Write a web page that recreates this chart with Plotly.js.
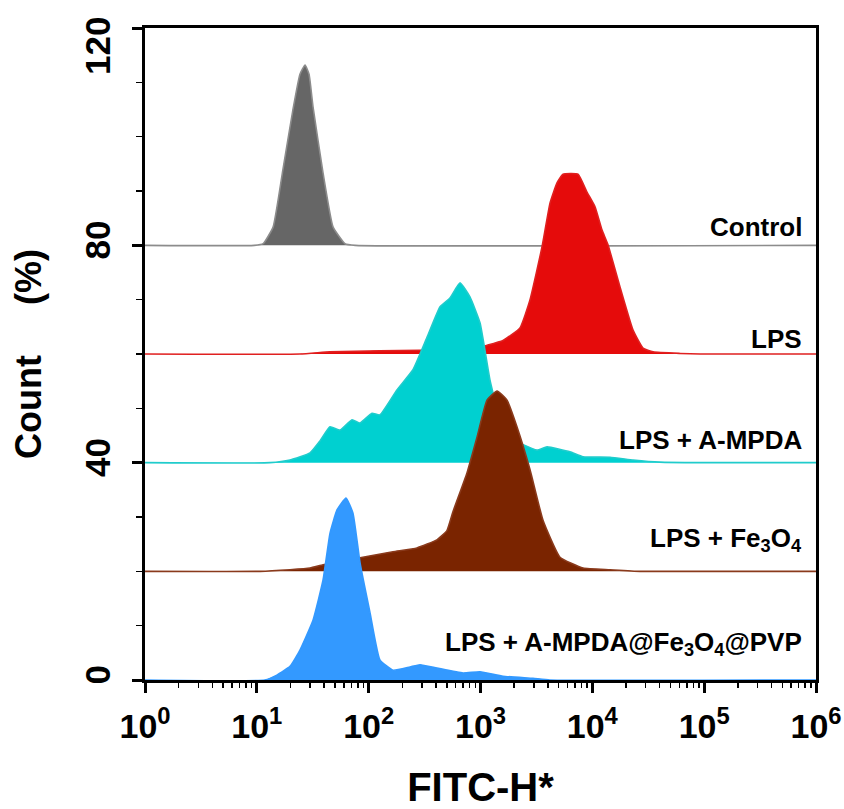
<!DOCTYPE html>
<html>
<head>
<meta charset="utf-8">
<script src="https://cdn.plot.ly/plotly-3.0.1.min.js"></script>
<style>html,body{margin:0;padding:0;background:#fff;}#chart{width:844px;height:809px;}</style>
</head>
<body>
<div id="chart"></div>
<script>
// Sample names (top to bottom) and their vertical offsets (Count %)
var sampleNames = ['Control', 'LPS', 'LPS + A-MPDA', 'LPS + Fe<sub>3</sub>O<sub>4</sub>', 'LPS + A-MPDA@Fe<sub>3</sub>O<sub>4</sub>@PVP'];
var sampleOffsets = [80, 60, 40, 20, 0];

// FITC-H intensity (x) and count (%) above each sample's baseline
var controlX = [1, 9.5, 11.4, 14.0, 17.1, 21.0, 24.3, 27.0, 29.3, 31.8, 39.1, 48.0, 61.4, 75.9, 1e6];
var controlY = [0, 0, 0.3, 3.4, 13.9, 24.9, 31.5, 33.2, 31.5, 25.5, 13.3, 3.4, 0.3, 0, 0];

var lpsX = [1, 24.3, 45.1, 126, 288, 805, 1143, 1589, 2254, 2773, 3548, 4188, 4831, 5470, 7447, 8954, 10568, 12218, 13804, 17701, 23121, 28379, 34914, 60814, 91833, 1e6];
var lpsY = [0, 0, 0.4, 0.6, 0.7, 0.8, 1.6, 2.5, 4.8, 10, 19.7, 27.8, 31.5, 33.1, 33.1, 29.8, 27.1, 22.8, 20.1, 12.3, 4.4, 1.1, 0.4, 0.1, 0, 0];

var ampdaX = [1, 13.1, 19.8, 29.9, 36.7, 45.1, 55.5, 71.0, 83.8, 107, 126, 179, 249, 333, 435, 533, 656, 805, 991, 1216, 1493, 1837, 2254, 3199, 3936, 6310, 8260, 14388, 23121, 40272, 91833, 1e6];
var ampdaY = [0, 0, 0.5, 1.8, 4, 6.6, 6.0, 7.9, 7.3, 9.1, 8.8, 13.4, 17.1, 23.1, 28.7, 30.3, 33.1, 30.5, 25.7, 15.2, 8, 4.5, 3.6, 2.3, 2.9, 2, 1.1, 1.0, 0.5, 0.1, 0, 0];

var fe3o4X = [1, 10.7, 19.8, 29.9, 39.1, 83.8, 165, 270, 408, 501, 568, 757, 931, 1143, 1406, 1726, 2118, 2773, 3622, 5140, 8260, 14388, 26669, 1e6];
var fe3o4Y = [0, 0, 0.3, 0.6, 1.2, 2.5, 3.6, 4.3, 5.8, 7.5, 11, 18.1, 24.7, 31.5, 33.2, 31.5, 26.6, 18.7, 9.4, 2.6, 0.6, 0.3, 0, 0];

var pvpX = [1, 11.8, 15.1, 19.8, 24.3, 31.8, 39.1, 45.1, 52.1, 62.7, 72.4, 83.8, 103, 126, 165, 234, 288, 408, 698, 991, 1589, 2951, 4169, 1e6];
var pvpY = [0, 0, 0.9, 2.5, 5.5, 11, 18.4, 27, 31.3, 33.5, 30.7, 21.5, 12.3, 3.7, 1.8, 2.4, 2.8, 2.2, 1.3, 1.5, 0.7, 0.3, 0, 0];

// Axis ticks
var xTickVals = [1, 10, 100, 1000, 10000, 100000, 1000000];
var xTickText = ['10<sup>0</sup>', '10<sup>1</sup>', '10<sup>2</sup>', '10<sup>3</sup>', '10<sup>4</sup>', '10<sup>5</sup>', '10<sup>6</sup>'];
var yTickVals = [0, 40, 80, 120];
var yTickText = ['0', '40', '80', '120'];

var seriesX = [controlX, lpsX, ampdaX, fe3o4X, pvpX];
var seriesY = [controlY, lpsY, ampdaY, fe3o4Y, pvpY];
var fillColors = ['#666666', '#e50b0b', '#00d0d0', '#7a2400', '#3399ff'];
var lineColors = ['#8c8c8c', '#e02020', '#20cccc', '#8a3a1c', '#3399ff'];

var traces = [];
for (var i = 0; i < seriesX.length; i++) {
  var off = sampleOffsets[i];
  var xs = seriesX[i];
  traces.push({
    x: [xs[0], xs[xs.length - 1]],
    y: [off, off],
    mode: 'lines',
    line: {width: 0, color: lineColors[i]},
    hoverinfo: 'skip',
    showlegend: false
  });
  traces.push({
    x: xs,
    y: seriesY[i].map(function (v) { return v + off; }),
    mode: 'lines',
    line: {width: 1.6, color: lineColors[i], shape: 'spline', smoothing: 0.4},
    fill: 'tonexty',
    fillcolor: fillColors[i],
    name: sampleNames[i],
    showlegend: false
  });
}

var baseFont = {family: '"Liberation Sans", Arial, sans-serif', color: '#000', weight: 'bold'};
function f(size) { return Object.assign({}, baseFont, {size: size}); }

// top tick label: in the reference it sits just below its tick, drawn as a rotated annotation
var lastIdx = yTickText.length - 1;
var yTickTextShown = yTickText.map(function (t, i) { return i === lastIdx ? '' : t; });

var labelY = [83.4, 62.8, 44.2, 25.8, 6.8];
var annotations = sampleNames.map(function (nm, i) {
  return {
    xref: 'paper', yref: 'y', x: 0.982, y: labelY[i],
    xanchor: 'right', yanchor: 'middle',
    text: nm, showarrow: false, font: f(26)
  };
});
annotations.push({
  xref: 'paper', yref: 'y', x: -0.0715, y: yTickVals[lastIdx],
  xanchor: 'center', yanchor: 'top', yshift: 13, textangle: -90,
  text: yTickText[lastIdx], showarrow: false, font: f(35)
});

var layout = {
  width: 844, height: 809,
  margin: {l: 145, r: 28, t: 28, b: 129},
  paper_bgcolor: '#fff', plot_bgcolor: '#fff',
  showlegend: false,
  xaxis: {
    type: 'log', range: [0, 6],
    tickmode: 'array', tickvals: xTickVals, ticktext: xTickText,
    ticks: 'outside', ticklen: 10, tickwidth: 3, tickcolor: '#000',
    minor: {ticks: 'outside', ticklen: 5, tickwidth: 1.5, tickcolor: '#000', dtick: 'D1'},
    showline: true, linewidth: 3, linecolor: '#000', mirror: true,
    showgrid: false, zeroline: false,
    tickfont: f(34), ticklabelstandoff: 4,
    title: {text: 'FITC-H*', font: f(40), standoff: 32}
  },
  yaxis: {
    range: [0, 120],
    tickmode: 'array', tickvals: yTickVals, ticktext: yTickTextShown,
    ticks: 'outside', ticklen: 10, tickwidth: 3, tickcolor: '#000',
    minor: {ticks: 'outside', ticklen: 6, tickwidth: 1.5, tickcolor: '#000', dtick: 10, tickmode: 'linear', tick0: 0},
    showline: true, linewidth: 3, linecolor: '#000', mirror: true,
    showgrid: false, zeroline: false,
    tickangle: -90, ticklabelstandoff: 8,
    tickfont: f(35),
    title: {text: '\u00a0\u00a0\u00a0Count\u00a0\u00a0\u00a0\u00a0\u00a0(%)', font: f(36), standoff: 26}
  },
  annotations: annotations
};

Plotly.newPlot('chart', traces, layout, {displayModeBar: false, staticPlot: true});
</script>
</body>
</html>
